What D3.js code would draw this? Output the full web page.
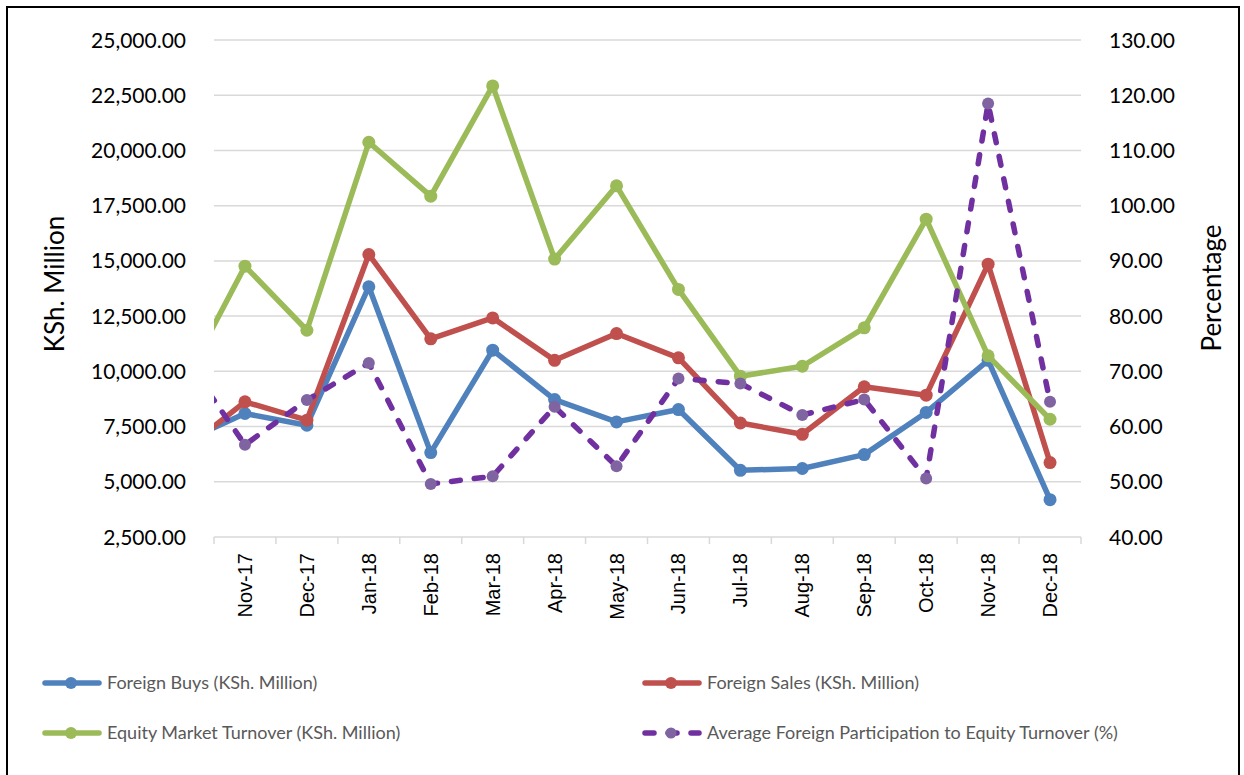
<!DOCTYPE html>
<html>
<head>
<meta charset="utf-8">
<script src="https://cdn.jsdelivr.net/npm/d3@7"></script>
<style>
  body { margin: 0; background: #fff; }
  svg { display: block; }
</style>
</head>
<body>
<svg id="chart" width="1244" height="775"></svg>
<script>
// months on the axis; Oct-17 sits left of the plot and is clipped
const months = ["Oct-17", "Nov-17", "Dec-17", "Jan-18", "Feb-18", "Mar-18", "Apr-18", "May-18",
  "Jun-18", "Jul-18", "Aug-18", "Sep-18", "Oct-18", "Nov-18", "Dec-18"];
const foreignBuys = [6800, 8090, 7560, 13830, 6320, 10960, 8720, 7710, 8270, 5520, 5600, 6230, 8140, 10500, 4190];
const foreignSales = [6410, 8620, 7790, 15290, 11470, 12420, 10500, 11710, 10610, 7660, 7150, 9300, 8920, 14850, 5870];
const equityTurnover = [9420, 14760, 11860, 20370, 17930, 22920, 15080, 18400, 13710, 9780, 10230, 11970, 16890, 10700, 7830];
const foreignParticipation = [72.9, 56.7, 64.8, 71.5, 49.6, 51.0, 63.6, 52.8, 68.7, 67.8, 62.1, 64.9, 50.6, 118.5, 64.5];
const leftTicks = d3.range(2500, 25001, 2500);
const rightTicks = d3.range(40, 131, 10);

const svg = d3.select("#chart");
const plot = { left: 214, right: 1081, top: 40, bottom: 537 };
const step = (plot.right - plot.left) / (months.length - 1);

// frame
svg.append("rect")
  .attr("x", 7).attr("y", 7)
  .attr("width", 1232).attr("height", 820)
  .attr("fill", "none").attr("stroke", "#000").attr("stroke-width", 2);

const x = d3.scaleBand()
  .domain(months)
  .range([plot.left - step, plot.right]);
const yLeft = d3.scaleLinear().domain([2500, 25000]).range([plot.bottom, plot.top]);
const yRight = d3.scaleLinear().domain([40, 130]).range([plot.bottom, plot.top]);
const cx = d => x(d) + x.bandwidth() / 2;

// gridlines
svg.append("g").selectAll("line")
  .data(leftTicks.slice(1))
  .join("line")
  .attr("x1", plot.left).attr("x2", plot.right)
  .attr("y1", d => yLeft(d)).attr("y2", d => yLeft(d))
  .attr("stroke", "#d9d9d9").attr("stroke-width", 1.5);

// category axis
const visible = months.slice(1);
const xAxis = svg.append("g");
xAxis.append("line")
  .attr("x1", plot.left).attr("x2", plot.right)
  .attr("y1", plot.bottom).attr("y2", plot.bottom)
  .attr("stroke", "#d9d9d9").attr("stroke-width", 1.5);
xAxis.selectAll("line.tick")
  .data(visible.map(m => x(m)).concat([plot.right]))
  .join("line")
  .attr("class", "tick")
  .attr("x1", d => d).attr("x2", d => d)
  .attr("y1", plot.bottom).attr("y2", plot.bottom + 7)
  .attr("stroke", "#d9d9d9").attr("stroke-width", 1.5);
xAxis.selectAll("text")
  .data(visible)
  .join("text")
  .attr("transform", d => `translate(${cx(d) + 7},553) rotate(-90)`)
  .attr("text-anchor", "end")
  .style("font-family", "'Liberation Sans', Arial, sans-serif")
  .style("font-size", "20px")
  .attr("fill", "#000")
  .text(d => d);

// value axes labels
svg.append("g").selectAll("text")
  .data(leftTicks)
  .join("text")
  .attr("x", 186).attr("y", d => yLeft(d))
  .attr("dy", "0.36em")
  .attr("text-anchor", "end")
  .style("font-family", "Lato, sans-serif")
  .style("font-size", "21px")
  .text(d => d3.format(",.2f")(d));

svg.append("g").selectAll("text")
  .data(rightTicks)
  .join("text")
  .attr("x", 1109).attr("y", d => yRight(d))
  .attr("dy", "0.36em")
  .style("font-family", "Lato, sans-serif")
  .style("font-size", "21px")
  .text(d => d3.format(".2f")(d));

svg.append("text")
  .attr("transform", "translate(64,284) rotate(-90)")
  .attr("text-anchor", "middle")
  .style("font-family", "Lato, sans-serif")
  .style("font-size", "26px")
  .text("KSh. Million");

svg.append("text")
  .attr("transform", "translate(1221,288) rotate(-90)")
  .attr("text-anchor", "middle")
  .style("font-family", "Lato, sans-serif")
  .style("font-size", "26px")
  .text("Percentage");

// series
svg.append("clipPath").attr("id", "plotClip")
  .append("rect")
  .attr("x", plot.left).attr("y", 0)
  .attr("width", plot.right - plot.left).attr("height", plot.bottom + 20);

const series = [
  { name: "Foreign Buys (KSh. Million)", values: foreignBuys, y: yLeft, line: "#4f81bd", marker: "#4f81bd", r: 6.5 },
  { name: "Foreign Sales (KSh. Million)", values: foreignSales, y: yLeft, line: "#c0504d", marker: "#c0504d", r: 6.5 },
  { name: "Equity Market Turnover (KSh. Million)", values: equityTurnover, y: yLeft, line: "#9bbb59", marker: "#9bbb59", r: 6.5 },
  { name: "Average Foreign Participation to Equity Turnover (%)", values: foreignParticipation, y: yRight, line: "#7030a0", marker: "#8064a2", r: 6, dash: "9,14" }
];

const lines = svg.append("g").attr("clip-path", "url(#plotClip)");
series.forEach(s => {
  const pts = months.map((m, i) => [cx(m), s.y(s.values[i])]);
  lines.append("path")
    .attr("d", d3.line()(pts))
    .attr("fill", "none")
    .attr("stroke", s.line)
    .attr("stroke-width", 5.5)
    .attr("stroke-linejoin", "round")
    .attr("stroke-linecap", "round")
    .attr("stroke-dasharray", s.dash || null);
  lines.append("g").selectAll("circle")
    .data(pts)
    .join("circle")
    .attr("cx", d => d[0]).attr("cy", d => d[1])
    .attr("r", s.r)
    .attr("fill", s.marker);
});

// legend
const legendPos = [[42, 683], [642, 683], [42, 733], [642, 733]];
series.forEach((s, k) => {
  const [lx, ly] = legendPos[k];
  const g = svg.append("g").attr("transform", `translate(${lx},${ly})`);
  g.append("line")
    .attr("x1", 3).attr("x2", 57)
    .attr("stroke", s.line)
    .attr("stroke-width", 5.5)
    .attr("stroke-linecap", "round")
    .attr("stroke-dasharray", s.dash || null);
  g.append("circle").attr("cx", 29).attr("r", s.r - 0.5).attr("fill", s.marker);
  g.append("text")
    .attr("x", 65).attr("dy", "0.35em")
    .style("font-family", "Lato, sans-serif")
    .style("font-size", "18px")
    .attr("fill", "#595959")
    .text(s.name);
});
</script>
</body>
</html>
